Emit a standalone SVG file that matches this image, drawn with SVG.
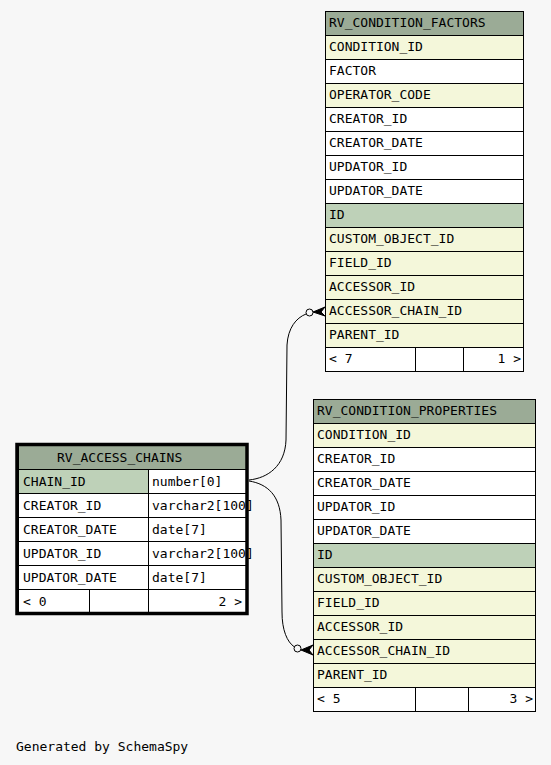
<svg xmlns="http://www.w3.org/2000/svg" width="551" height="765" viewBox="0 0 551 765">
<style>
text{font-family:"DejaVu Sans Mono","Liberation Mono",monospace;font-size:13px;fill:#000}
.c{stroke:#000;stroke-width:1}
.h{fill:#9bab96}
.k{fill:#bed1b8}
.y{fill:#f4f7da}
.w{fill:#ffffff}
.e{text-anchor:end}
.edge{fill:none;stroke:#000;stroke-width:1}
.dot{fill:#f7f7f7;stroke:#000;stroke-width:1}
.crow{fill:#000;stroke:#000;stroke-width:1}
</style>
<rect width="551" height="765" fill="#f7f7f7"/>

<g id="RV_CONDITION_FACTORS">
<g class="c">
<rect class="h" x="325.5" y="11.5" width="198" height="24"/>
<rect class="y" x="325.5" y="35.5" width="198" height="24"/>
<rect class="w" x="325.5" y="59.5" width="198" height="24"/>
<rect class="y" x="325.5" y="83.5" width="198" height="24"/>
<rect class="w" x="325.5" y="107.5" width="198" height="24"/>
<rect class="w" x="325.5" y="131.5" width="198" height="24"/>
<rect class="w" x="325.5" y="155.5" width="198" height="24"/>
<rect class="w" x="325.5" y="179.5" width="198" height="24"/>
<rect class="k" x="325.5" y="203.5" width="198" height="24"/>
<rect class="y" x="325.5" y="227.5" width="198" height="24"/>
<rect class="y" x="325.5" y="251.5" width="198" height="24"/>
<rect class="y" x="325.5" y="275.5" width="198" height="24"/>
<rect class="y" x="325.5" y="299.5" width="198" height="24"/>
<rect class="y" x="325.5" y="323.5" width="198" height="24"/>
<rect class="w" x="325.5" y="347.5" width="90" height="24"/>
<rect class="w" x="415.5" y="347.5" width="48" height="24"/>
<rect class="w" x="463.5" y="347.5" width="60" height="24"/>
</g>
<text x="329" y="27">RV_CONDITION_FACTORS</text>
<text x="329" y="51">CONDITION_ID</text>
<text x="329" y="75">FACTOR</text>
<text x="329" y="99">OPERATOR_CODE</text>
<text x="329" y="123">CREATOR_ID</text>
<text x="329" y="147">CREATOR_DATE</text>
<text x="329" y="171">UPDATOR_ID</text>
<text x="329" y="195">UPDATOR_DATE</text>
<text x="329" y="219">ID</text>
<text x="329" y="243">CUSTOM_OBJECT_ID</text>
<text x="329" y="267">FIELD_ID</text>
<text x="329" y="291">ACCESSOR_ID</text>
<text x="329" y="315">ACCESSOR_CHAIN_ID</text>
<text x="329" y="339">PARENT_ID</text>
<text x="329" y="363">&lt; 7</text>
<text class="e" x="521" y="363">1 &gt;</text>
</g>

<g id="RV_CONDITION_PROPERTIES">
<g class="c">
<rect class="h" x="313.5" y="399.5" width="222" height="24"/>
<rect class="y" x="313.5" y="423.5" width="222" height="24"/>
<rect class="w" x="313.5" y="447.5" width="222" height="24"/>
<rect class="w" x="313.5" y="471.5" width="222" height="24"/>
<rect class="w" x="313.5" y="495.5" width="222" height="24"/>
<rect class="w" x="313.5" y="519.5" width="222" height="24"/>
<rect class="k" x="313.5" y="543.5" width="222" height="24"/>
<rect class="y" x="313.5" y="567.5" width="222" height="24"/>
<rect class="y" x="313.5" y="591.5" width="222" height="24"/>
<rect class="y" x="313.5" y="615.5" width="222" height="24"/>
<rect class="y" x="313.5" y="639.5" width="222" height="24"/>
<rect class="y" x="313.5" y="663.5" width="222" height="24"/>
<rect class="w" x="313.5" y="687.5" width="102" height="24"/>
<rect class="w" x="415.5" y="687.5" width="53" height="24"/>
<rect class="w" x="468.5" y="687.5" width="67" height="24"/>
</g>
<text x="317" y="415">RV_CONDITION_PROPERTIES</text>
<text x="317" y="439">CONDITION_ID</text>
<text x="317" y="463">CREATOR_ID</text>
<text x="317" y="487">CREATOR_DATE</text>
<text x="317" y="511">UPDATOR_ID</text>
<text x="317" y="535">UPDATOR_DATE</text>
<text x="317" y="559">ID</text>
<text x="317" y="583">CUSTOM_OBJECT_ID</text>
<text x="317" y="607">FIELD_ID</text>
<text x="317" y="631">ACCESSOR_ID</text>
<text x="317" y="655">ACCESSOR_CHAIN_ID</text>
<text x="317" y="679">PARENT_ID</text>
<text x="317" y="703">&lt; 5</text>
<text class="e" x="533" y="703">3 &gt;</text>
</g>

<g id="RV_ACCESS_CHAINS">
<g class="c">
<rect class="h" x="18.5" y="445.5" width="228" height="24"/>
<rect class="k" x="18.5" y="469.5" width="130" height="24"/>
<rect class="w" x="148.5" y="469.5" width="98" height="24"/>
<rect class="w" x="18.5" y="493.5" width="130" height="24"/>
<rect class="w" x="148.5" y="493.5" width="98" height="24"/>
<rect class="w" x="18.5" y="517.5" width="130" height="24"/>
<rect class="w" x="148.5" y="517.5" width="98" height="24"/>
<rect class="w" x="18.5" y="541.5" width="130" height="24"/>
<rect class="w" x="148.5" y="541.5" width="98" height="24"/>
<rect class="w" x="18.5" y="565.5" width="130" height="24"/>
<rect class="w" x="148.5" y="565.5" width="98" height="24"/>
<rect class="w" x="18.5" y="589.5" width="71" height="24"/>
<rect class="w" x="89.5" y="589.5" width="59" height="24"/>
<rect class="w" x="148.5" y="589.5" width="98" height="24"/>
</g>
<text x="57" y="462">RV_ACCESS_CHAINS</text>
<text x="23" y="486">CHAIN_ID</text>
<text x="152" y="486">number[0]</text>
<text x="23" y="510">CREATOR_ID</text>
<text x="152" y="510">varchar2[100]</text>
<text x="23" y="534">CREATOR_DATE</text>
<text x="152" y="534">date[7]</text>
<text x="23" y="558">UPDATOR_ID</text>
<text x="152" y="558">varchar2[100]</text>
<text x="23" y="582">UPDATOR_DATE</text>
<text x="152" y="582">date[7]</text>
<text x="23" y="606">&lt; 0</text>
<text class="e" x="242" y="606">2 &gt;</text>
<rect x="17" y="444.5" width="230" height="169" fill="none" stroke="#000" stroke-width="3.5"/>
</g>

<g id="connectors">
<path class="edge" d="M249 480 C268 478,285 466,286 440 L287 345 C288 328,296 318,306 314"/>
<circle class="dot" cx="309.5" cy="312.5" r="3.5"/>
<path class="crow" d="M313 312 L325 307 L321 312 L325 316 Z"/>
<path class="edge" d="M249 481 C268 484,280 496,281 520 L282 612 C282 630,287 642,294.5 647"/>
<circle class="dot" cx="297.5" cy="648.5" r="3.5"/>
<path class="crow" d="M301 650 L313 645 L309 650 L313 655 Z"/>
</g>

<text x="16" y="751">Generated by SchemaSpy</text>
</svg>
